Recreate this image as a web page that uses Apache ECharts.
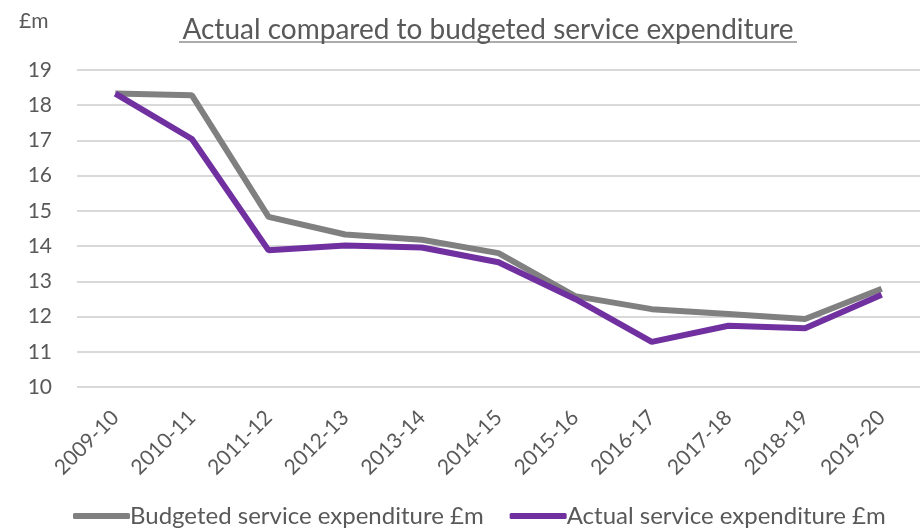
<!DOCTYPE html>
<html><head><meta charset="utf-8">
<script src="https://cdn.jsdelivr.net/npm/echarts@6/dist/echarts.min.js"></script>
<style>html,body{margin:0;padding:0;background:#fff}#c{width:924px;height:529px}</style>
</head><body><div id="c"></div>
<script>
const categories = ['2009-10','2010-11','2011-12','2012-13','2013-14','2014-15','2015-16','2016-17','2017-18','2018-19','2019-20'];
const budgeted = [18.33, 18.28, 14.83, 14.33, 14.18, 13.8, 12.58, 12.21, 12.07, 11.93, 12.79];
const actual = [18.33, 17.04, 13.88, 14.02, 13.96, 13.54, 12.5, 11.28, 11.74, 11.67, 12.62];
const titleText = 'Actual compared to budgeted service expenditure';
const unitLabel = '£m';
const FONT = 'Lato';
const TXT = '#595959';
const chart = echarts.init(document.getElementById('c'));
chart.setOption({
  animation: false,
  grid: {left: 77, right: 4, top: 70, bottom: 142, containLabel: false},
  graphic: [
    {type: 'text', x: 488, y: 30, style: {text: titleText, font: '28px ' + FONT, fill: TXT, align: 'center', verticalAlign: 'middle'}},
    {type: 'line', shape: {x1: 179, y1: 42, x2: 797, y2: 42}, style: {stroke: TXT, lineWidth: 1.2}},
    {type: 'text', x: 19, y: 21, style: {text: unitLabel, font: '21px ' + FONT, fill: TXT, verticalAlign: 'middle'}}
  ],
  legend: {
    top: 499, left: 68, itemWidth: 57, itemHeight: 6, itemGap: 26, icon: 'roundRect',
    textStyle: {fontFamily: FONT, fontSize: 24, color: TXT, padding: [0,0,0,-5]},
    data: ['Budgeted service expenditure £m', 'Actual service expenditure £m']
  },
  xAxis: {
    type: 'category', data: categories, boundaryGap: true,
    axisLine: {show: false}, axisTick: {show: false},
    axisLabel: {rotate: 45, fontFamily: FONT, fontSize: 21, color: TXT, margin: 27, interval: 0}
  },
  yAxis: {
    type: 'value', min: 10, max: 19, interval: 1,
    axisLine: {show: false}, axisTick: {show: false},
    axisLabel: {fontFamily: FONT, fontSize: 21, color: TXT, margin: 25},
    splitLine: {lineStyle: {color: '#d9d9d9', width: 2}}
  },
  series: [
    {name: 'Budgeted service expenditure £m', type: 'line', data: budgeted, symbol: 'none',
     lineStyle: {color: '#808080', width: 6}, itemStyle: {color: '#808080'}},
    {name: 'Actual service expenditure £m', type: 'line', data: actual, symbol: 'none',
     lineStyle: {color: '#7030A0', width: 6}, itemStyle: {color: '#7030A0'}}
  ]
});
</script></body></html>
